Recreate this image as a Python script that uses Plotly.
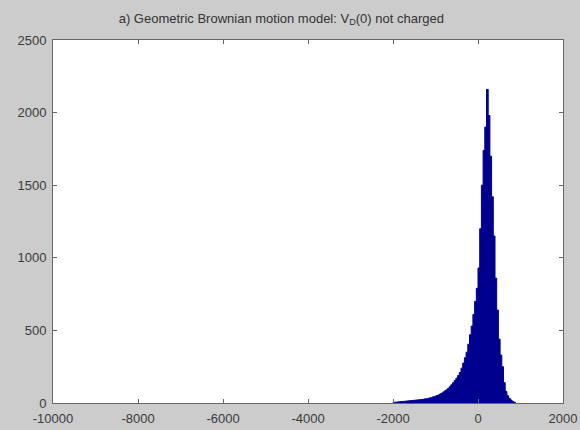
import numpy as np
import plotly.graph_objects as go

# Histogram bin centres (width 40) and counts
bin_width = 40
bin_centers = list(range(-1980, 861, 40))
counts = [5, 6, 7, 8, 9, 10, 11, 12, 13, 14,
          15, 16, 17, 18, 20, 21, 23, 25, 27, 29,
          31, 34, 37, 41, 45, 49, 54, 60, 66, 74,
          82, 90, 100, 112, 125, 139, 155, 171, 189, 210,
          240, 275, 312, 350, 405, 470, 530, 610, 700, 790,
          930, 1200, 1500, 1740, 1900, 2160, 1980, 1700, 1420, 1150,
          860, 640, 440, 330, 250, 140, 80, 50, 32, 20,
          11, 5]

x_ticks = [-10000, -8000, -6000, -4000, -2000, 0, 2000]
x_tick_labels = ["-10000", "-8000", "-6000", "-4000", "-2000", "0", "2000"]
y_ticks = [0, 500, 1000, 1500, 2000, 2500]
y_tick_labels = ["0", "500", "1000", "1500", "2000", "2500"]

# closed step outline of the histogram (built from bins and counts)
xs = [bin_centers[0] - bin_width / 2]
ys = [0]
for c, n in zip(bin_centers, counts):
    xs += [c - bin_width / 2, c + bin_width / 2]
    ys += [n, n]
xs.append(bin_centers[-1] + bin_width / 2)
ys.append(0)

fig = go.Figure(go.Scatter(
    x=xs, y=ys, mode="lines", fill="tozeroy",
    line=dict(color="#00008F", width=1), fillcolor="#00008F",
    hoverinfo="skip",
))

axis_common = dict(
    showgrid=False, zeroline=False, showline=True, linecolor="#666666",
    linewidth=1, mirror="ticks", ticks="inside", ticklen=4, tickcolor="#666666",
    automargin=False,
    tickfont=dict(family="Liberation Sans, Arial", size=13, color="#3a3a3a"),
)
fig.update_xaxes(range=[-10000, 2000], tickvals=x_ticks, ticktext=x_tick_labels,
                 ticklabelstandoff=3, **axis_common)
fig.update_yaxes(range=[0, 2500], tickvals=y_ticks, ticktext=y_tick_labels,
                 ticklabelstandoff=3, **axis_common)

fig.update_layout(
    width=580, height=430,
    margin=dict(l=53, r=17, t=40, b=27, autoexpand=False),
    paper_bgcolor="#cccccc", plot_bgcolor="#ffffff",
    showlegend=False,
    title=dict(text="a) Geometric Brownian motion model: V<sub>D</sub>(0) not charged",
               xref="container", x=0.485, xanchor="center",
               yref="container", y=0.958, yanchor="middle",
               font=dict(family="Liberation Sans, Arial", size=13, color="#333333")),
)

fig.write_html("out.html")
